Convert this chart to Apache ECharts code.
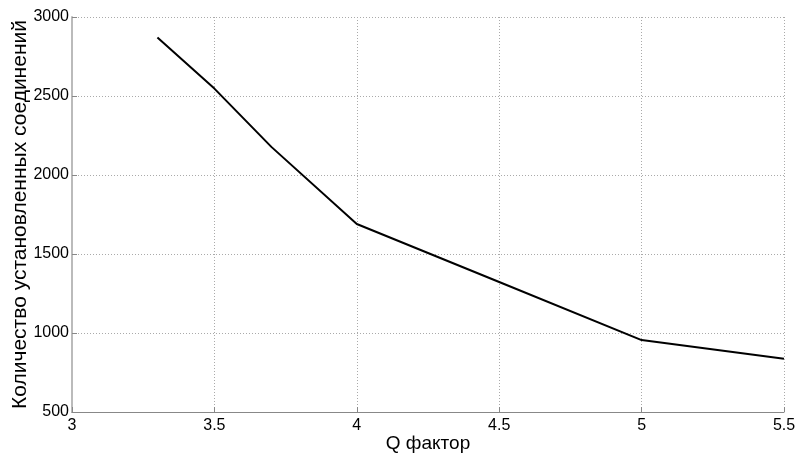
<!DOCTYPE html>
<html><head><meta charset="utf-8">
<script src="https://cdn.jsdelivr.net/npm/echarts@6/dist/echarts.min.js"></script>
<style>html,body{margin:0;padding:0;background:#fff}#c{width:797px;height:455px}</style>
</head><body><div id="c"></div>
<script>
const qFactor = [3.3, 3.5, 3.7, 4.0, 4.5, 5.0, 5.5];
const connections = [2870, 2547, 2178, 1690, 1323, 955, 837];
const xName = 'Q фактор';
const yName = 'Количество установленных соединений';

const chart = echarts.init(document.getElementById('c'));
const font = 'Liberation Sans, Arial, sans-serif';
chart.setOption({
  animation: false,
  grid: {left: 72, right: 13, top: 17, bottom: 43, containLabel: false, outerBoundsMode: 'none'},
  xAxis: {
    type: 'value', min: 3, max: 5.5, interval: 0.5,
    name: xName, nameLocation: 'middle', nameGap: 22, nameMoveOverlap: false,
    nameTextStyle: {fontFamily: font, fontSize: 19, color: '#000'},
    axisLine: {lineStyle: {color: '#888', width: 1}},
    axisTick: {show: true, inside: true, length: 5, lineStyle: {color: '#888'}},
    axisLabel: {fontFamily: font, fontSize: 16, color: '#000', margin: 6,
      formatter: v => String(v)},
    splitLine: {show: true, lineStyle: {color: '#aaa', type: [1, 2], width: 1}}
  },
  yAxis: {
    type: 'value', min: 500, max: 3000, interval: 500,
    name: yName, nameLocation: 'middle', nameGap: 41, nameMoveOverlap: false,
    nameTextStyle: {fontFamily: font, fontSize: 21, color: '#000'},
    axisLine: {show: true, lineStyle: {color: '#bbb', width: 2}},
    axisTick: {show: true, inside: true, length: 5, lineStyle: {color: '#888'}},
    axisLabel: {fontFamily: font, fontSize: 16, color: '#000', margin: 3,
      formatter: v => String(v)},
    splitLine: {show: true, lineStyle: {color: '#aaa', type: [1, 2], width: 1}}
  },
  series: [{
    type: 'line',
    data: qFactor.map((q, i) => [q, connections[i]]),
    showSymbol: false,
    lineStyle: {color: '#000', width: 2}
  }]
});
</script></body></html>
